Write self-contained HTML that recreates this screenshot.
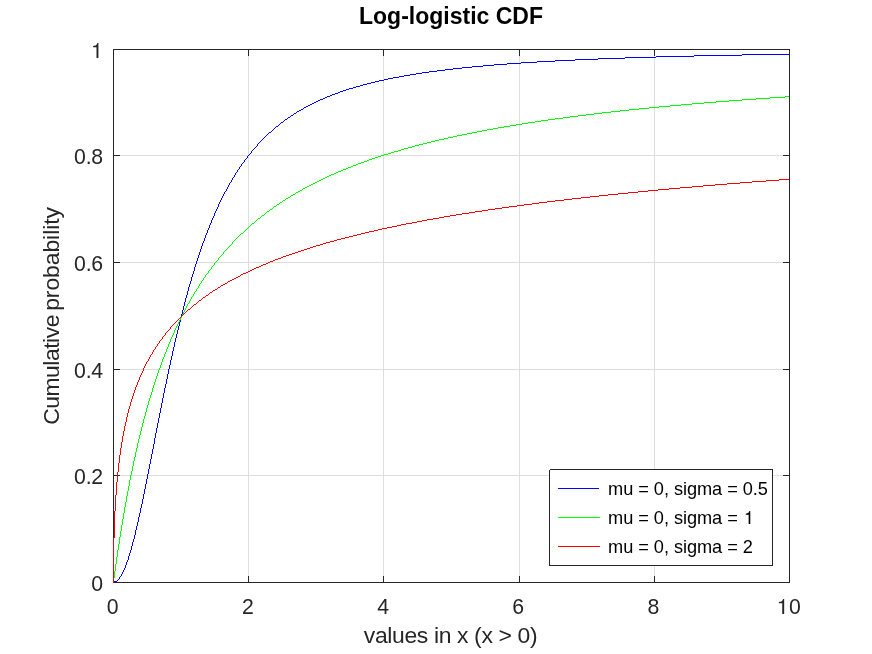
<!DOCTYPE html>
<html><head><meta charset="utf-8"><title>Log-logistic CDF</title>
<style>html,body{margin:0;padding:0;background:#fff;}body{width:872px;height:654px;overflow:hidden;}svg{display:block;will-change:transform;}text{font-family:"Liberation Sans",sans-serif;}</style>
</head><body>
<svg width="872" height="654" viewBox="0 0 872 654">
<rect x="0" y="0" width="872" height="654" fill="#ffffff"/>
<g shape-rendering="crispEdges" fill="#dedede">
<rect x="248" y="49" width="1" height="533"/>
<rect x="383" y="49" width="1" height="533"/>
<rect x="519" y="49" width="1" height="533"/>
<rect x="654" y="49" width="1" height="533"/>
<rect x="113" y="475" width="676" height="1"/>
<rect x="113" y="369" width="676" height="1"/>
<rect x="113" y="262" width="676" height="1"/>
<rect x="113" y="155" width="676" height="1"/>
</g>
<g shape-rendering="crispEdges" fill="#262626">
<rect x="113" y="49" width="677" height="1"/>
<rect x="113" y="582" width="677" height="1"/>
<rect x="113" y="49" width="1" height="534"/>
<rect x="789" y="49" width="1" height="534"/>
<rect x="248" y="576" width="1" height="7"/>
<rect x="248" y="49" width="1" height="7"/>
<rect x="383" y="576" width="1" height="7"/>
<rect x="383" y="49" width="1" height="7"/>
<rect x="519" y="576" width="1" height="7"/>
<rect x="519" y="49" width="1" height="7"/>
<rect x="654" y="576" width="1" height="7"/>
<rect x="654" y="49" width="1" height="7"/>
<rect x="113" y="475" width="7" height="1"/>
<rect x="783" y="475" width="7" height="1"/>
<rect x="113" y="369" width="7" height="1"/>
<rect x="783" y="369" width="7" height="1"/>
<rect x="113" y="262" width="7" height="1"/>
<rect x="783" y="262" width="7" height="1"/>
<rect x="113" y="155" width="7" height="1"/>
<rect x="783" y="155" width="7" height="1"/>
</g>
<g shape-rendering="crispEdges" fill="#0000ff">
<rect x="113" y="582" width="1" height="1"/><rect x="114" y="581" width="3" height="1"/><rect x="117" y="580" width="1" height="1"/><rect x="118" y="579" width="1" height="1"/><rect x="119" y="577" width="1" height="2"/><rect x="120" y="576" width="1" height="1"/><rect x="121" y="574" width="1" height="2"/><rect x="122" y="572" width="1" height="2"/><rect x="123" y="570" width="1" height="2"/><rect x="124" y="568" width="1" height="2"/><rect x="125" y="565" width="1" height="3"/><rect x="126" y="562" width="1" height="3"/><rect x="127" y="560" width="1" height="2"/><rect x="128" y="556" width="1" height="4"/><rect x="129" y="553" width="1" height="3"/><rect x="130" y="550" width="1" height="3"/><rect x="131" y="546" width="1" height="4"/><rect x="132" y="542" width="1" height="4"/><rect x="133" y="539" width="1" height="3"/><rect x="134" y="535" width="1" height="4"/><rect x="135" y="530" width="1" height="5"/><rect x="136" y="526" width="1" height="4"/><rect x="137" y="522" width="1" height="4"/><rect x="138" y="517" width="1" height="5"/><rect x="139" y="513" width="1" height="4"/><rect x="140" y="508" width="1" height="5"/><rect x="141" y="504" width="1" height="4"/><rect x="142" y="499" width="1" height="5"/><rect x="143" y="494" width="1" height="5"/><rect x="144" y="489" width="1" height="5"/><rect x="145" y="484" width="1" height="5"/><rect x="146" y="479" width="1" height="5"/><rect x="147" y="474" width="1" height="5"/><rect x="148" y="469" width="1" height="5"/><rect x="149" y="464" width="1" height="5"/><rect x="150" y="459" width="1" height="5"/><rect x="151" y="454" width="1" height="5"/><rect x="152" y="449" width="1" height="5"/><rect x="153" y="444" width="1" height="5"/><rect x="154" y="438" width="1" height="6"/><rect x="155" y="433" width="1" height="5"/><rect x="156" y="428" width="1" height="5"/><rect x="157" y="423" width="1" height="5"/><rect x="158" y="418" width="1" height="5"/><rect x="159" y="413" width="1" height="5"/><rect x="160" y="408" width="1" height="5"/><rect x="161" y="403" width="1" height="5"/><rect x="162" y="398" width="1" height="5"/><rect x="163" y="393" width="1" height="5"/><rect x="164" y="388" width="1" height="5"/><rect x="165" y="384" width="1" height="4"/><rect x="166" y="379" width="1" height="5"/><rect x="167" y="374" width="1" height="5"/><rect x="168" y="369" width="1" height="5"/><rect x="169" y="365" width="1" height="4"/><rect x="170" y="360" width="1" height="5"/><rect x="171" y="356" width="1" height="4"/><rect x="172" y="351" width="1" height="5"/><rect x="173" y="347" width="1" height="4"/><rect x="174" y="342" width="1" height="5"/><rect x="175" y="338" width="1" height="4"/><rect x="176" y="334" width="1" height="4"/><rect x="177" y="330" width="1" height="4"/><rect x="178" y="326" width="1" height="4"/><rect x="179" y="322" width="1" height="4"/><rect x="180" y="318" width="1" height="4"/><rect x="181" y="314" width="1" height="4"/><rect x="182" y="310" width="1" height="4"/><rect x="183" y="306" width="1" height="4"/><rect x="184" y="302" width="1" height="4"/><rect x="185" y="298" width="1" height="4"/><rect x="186" y="295" width="1" height="3"/><rect x="187" y="291" width="1" height="4"/><rect x="188" y="287" width="1" height="4"/><rect x="189" y="284" width="1" height="3"/><rect x="190" y="281" width="1" height="3"/><rect x="191" y="277" width="1" height="4"/><rect x="192" y="274" width="1" height="3"/><rect x="193" y="271" width="1" height="3"/><rect x="194" y="267" width="1" height="4"/><rect x="195" y="264" width="1" height="3"/><rect x="196" y="261" width="1" height="3"/><rect x="197" y="258" width="1" height="3"/><rect x="198" y="255" width="1" height="3"/><rect x="199" y="252" width="1" height="3"/><rect x="200" y="249" width="1" height="3"/><rect x="201" y="246" width="1" height="3"/><rect x="202" y="243" width="1" height="3"/><rect x="203" y="241" width="1" height="2"/><rect x="204" y="238" width="1" height="3"/><rect x="205" y="235" width="1" height="3"/><rect x="206" y="233" width="1" height="2"/><rect x="207" y="230" width="1" height="3"/><rect x="208" y="228" width="1" height="2"/><rect x="209" y="225" width="1" height="3"/><rect x="210" y="223" width="1" height="2"/><rect x="211" y="220" width="1" height="3"/><rect x="212" y="218" width="1" height="2"/><rect x="213" y="216" width="1" height="2"/><rect x="214" y="213" width="1" height="3"/><rect x="215" y="211" width="1" height="2"/><rect x="216" y="209" width="1" height="2"/><rect x="217" y="207" width="1" height="2"/><rect x="218" y="204" width="1" height="3"/><rect x="219" y="202" width="1" height="2"/><rect x="220" y="200" width="1" height="2"/><rect x="221" y="198" width="1" height="2"/><rect x="222" y="196" width="1" height="2"/><rect x="223" y="194" width="1" height="2"/><rect x="224" y="192" width="1" height="2"/><rect x="225" y="191" width="1" height="1"/><rect x="226" y="189" width="1" height="2"/><rect x="227" y="187" width="1" height="2"/><rect x="228" y="185" width="1" height="2"/><rect x="229" y="183" width="1" height="2"/><rect x="230" y="182" width="1" height="1"/><rect x="231" y="180" width="1" height="2"/><rect x="232" y="178" width="1" height="2"/><rect x="233" y="177" width="1" height="1"/><rect x="234" y="175" width="1" height="2"/><rect x="235" y="173" width="1" height="2"/><rect x="236" y="172" width="1" height="1"/><rect x="237" y="170" width="1" height="2"/><rect x="238" y="169" width="1" height="1"/><rect x="239" y="167" width="1" height="2"/><rect x="240" y="166" width="1" height="1"/><rect x="241" y="164" width="1" height="2"/><rect x="242" y="163" width="1" height="1"/><rect x="243" y="162" width="1" height="1"/><rect x="244" y="160" width="1" height="2"/><rect x="245" y="159" width="1" height="1"/><rect x="246" y="158" width="1" height="1"/><rect x="247" y="156" width="1" height="2"/><rect x="248" y="155" width="1" height="1"/><rect x="249" y="154" width="1" height="1"/><rect x="250" y="153" width="1" height="1"/><rect x="251" y="151" width="1" height="2"/><rect x="252" y="150" width="1" height="1"/><rect x="253" y="149" width="1" height="1"/><rect x="254" y="148" width="1" height="1"/><rect x="255" y="147" width="1" height="1"/><rect x="256" y="146" width="1" height="1"/><rect x="257" y="144" width="1" height="2"/><rect x="258" y="143" width="1" height="1"/><rect x="259" y="142" width="1" height="1"/><rect x="260" y="141" width="1" height="1"/><rect x="261" y="140" width="1" height="1"/><rect x="262" y="139" width="1" height="1"/><rect x="263" y="138" width="1" height="1"/><rect x="264" y="137" width="1" height="1"/><rect x="265" y="136" width="1" height="1"/><rect x="266" y="135" width="1" height="1"/><rect x="267" y="134" width="1" height="1"/><rect x="268" y="133" width="1" height="1"/><rect x="269" y="132" width="2" height="1"/><rect x="271" y="131" width="1" height="1"/><rect x="272" y="130" width="1" height="1"/><rect x="273" y="129" width="1" height="1"/><rect x="274" y="128" width="1" height="1"/><rect x="275" y="127" width="1" height="1"/><rect x="276" y="126" width="2" height="1"/><rect x="278" y="125" width="1" height="1"/><rect x="279" y="124" width="1" height="1"/><rect x="280" y="123" width="1" height="1"/><rect x="281" y="122" width="2" height="1"/><rect x="283" y="121" width="1" height="1"/><rect x="284" y="120" width="1" height="1"/><rect x="285" y="119" width="2" height="1"/><rect x="287" y="118" width="1" height="1"/><rect x="288" y="117" width="2" height="1"/><rect x="290" y="116" width="1" height="1"/><rect x="291" y="115" width="2" height="1"/><rect x="293" y="114" width="1" height="1"/><rect x="294" y="113" width="2" height="1"/><rect x="296" y="112" width="1" height="1"/><rect x="297" y="111" width="2" height="1"/><rect x="299" y="110" width="2" height="1"/><rect x="301" y="109" width="2" height="1"/><rect x="303" y="108" width="1" height="1"/><rect x="304" y="107" width="2" height="1"/><rect x="306" y="106" width="2" height="1"/><rect x="308" y="105" width="2" height="1"/><rect x="310" y="104" width="2" height="1"/><rect x="312" y="103" width="2" height="1"/><rect x="314" y="102" width="2" height="1"/><rect x="316" y="101" width="2" height="1"/><rect x="318" y="100" width="2" height="1"/><rect x="320" y="99" width="3" height="1"/><rect x="323" y="98" width="2" height="1"/><rect x="325" y="97" width="2" height="1"/><rect x="327" y="96" width="3" height="1"/><rect x="330" y="95" width="2" height="1"/><rect x="332" y="94" width="3" height="1"/><rect x="335" y="93" width="3" height="1"/><rect x="338" y="92" width="2" height="1"/><rect x="340" y="91" width="3" height="1"/><rect x="343" y="90" width="3" height="1"/><rect x="346" y="89" width="3" height="1"/><rect x="349" y="88" width="4" height="1"/><rect x="353" y="87" width="3" height="1"/><rect x="356" y="86" width="4" height="1"/><rect x="360" y="85" width="3" height="1"/><rect x="363" y="84" width="4" height="1"/><rect x="367" y="83" width="4" height="1"/><rect x="371" y="82" width="4" height="1"/><rect x="375" y="81" width="4" height="1"/><rect x="379" y="80" width="5" height="1"/><rect x="384" y="79" width="4" height="1"/><rect x="388" y="78" width="5" height="1"/><rect x="393" y="77" width="6" height="1"/><rect x="399" y="76" width="5" height="1"/><rect x="404" y="75" width="6" height="1"/><rect x="410" y="74" width="6" height="1"/><rect x="416" y="73" width="6" height="1"/><rect x="422" y="72" width="7" height="1"/><rect x="429" y="71" width="8" height="1"/><rect x="437" y="70" width="8" height="1"/><rect x="445" y="69" width="8" height="1"/><rect x="453" y="68" width="9" height="1"/><rect x="462" y="67" width="10" height="1"/><rect x="472" y="66" width="11" height="1"/><rect x="483" y="65" width="11" height="1"/><rect x="494" y="64" width="13" height="1"/><rect x="507" y="63" width="14" height="1"/><rect x="521" y="62" width="16" height="1"/><rect x="537" y="61" width="18" height="1"/><rect x="555" y="60" width="20" height="1"/><rect x="575" y="59" width="23" height="1"/><rect x="598" y="58" width="27" height="1"/><rect x="625" y="57" width="31" height="1"/><rect x="656" y="56" width="38" height="1"/><rect x="694" y="55" width="48" height="1"/><rect x="742" y="54" width="47" height="1"/>
</g>
<g shape-rendering="crispEdges" fill="#00ff00">
<rect x="113" y="578" width="1" height="5"/><rect x="114" y="571" width="1" height="7"/><rect x="115" y="564" width="1" height="7"/><rect x="116" y="557" width="1" height="7"/><rect x="117" y="550" width="1" height="7"/><rect x="118" y="544" width="1" height="6"/><rect x="119" y="537" width="1" height="7"/><rect x="120" y="531" width="1" height="6"/><rect x="121" y="525" width="1" height="6"/><rect x="122" y="519" width="1" height="6"/><rect x="123" y="513" width="1" height="6"/><rect x="124" y="507" width="1" height="6"/><rect x="125" y="502" width="1" height="5"/><rect x="126" y="496" width="1" height="6"/><rect x="127" y="491" width="1" height="5"/><rect x="128" y="486" width="1" height="5"/><rect x="129" y="480" width="1" height="6"/><rect x="130" y="475" width="1" height="5"/><rect x="131" y="471" width="1" height="4"/><rect x="132" y="466" width="1" height="5"/><rect x="133" y="461" width="1" height="5"/><rect x="134" y="457" width="1" height="4"/><rect x="135" y="452" width="1" height="5"/><rect x="136" y="448" width="1" height="4"/><rect x="137" y="443" width="1" height="5"/><rect x="138" y="439" width="1" height="4"/><rect x="139" y="435" width="1" height="4"/><rect x="140" y="431" width="1" height="4"/><rect x="141" y="427" width="1" height="4"/><rect x="142" y="423" width="1" height="4"/><rect x="143" y="419" width="1" height="4"/><rect x="144" y="416" width="1" height="3"/><rect x="145" y="412" width="1" height="4"/><rect x="146" y="408" width="1" height="4"/><rect x="147" y="405" width="1" height="3"/><rect x="148" y="401" width="1" height="4"/><rect x="149" y="398" width="1" height="3"/><rect x="150" y="395" width="1" height="3"/><rect x="151" y="392" width="1" height="3"/><rect x="152" y="388" width="1" height="4"/><rect x="153" y="385" width="1" height="3"/><rect x="154" y="382" width="1" height="3"/><rect x="155" y="379" width="1" height="3"/><rect x="156" y="376" width="1" height="3"/><rect x="157" y="373" width="1" height="3"/><rect x="158" y="370" width="1" height="3"/><rect x="159" y="368" width="1" height="2"/><rect x="160" y="365" width="1" height="3"/><rect x="161" y="362" width="1" height="3"/><rect x="162" y="359" width="1" height="3"/><rect x="163" y="357" width="1" height="2"/><rect x="164" y="354" width="1" height="3"/><rect x="165" y="352" width="1" height="2"/><rect x="166" y="349" width="1" height="3"/><rect x="167" y="347" width="1" height="2"/><rect x="168" y="344" width="1" height="3"/><rect x="169" y="342" width="1" height="2"/><rect x="170" y="339" width="1" height="3"/><rect x="171" y="337" width="1" height="2"/><rect x="172" y="335" width="1" height="2"/><rect x="173" y="333" width="1" height="2"/><rect x="174" y="330" width="1" height="3"/><rect x="175" y="328" width="1" height="2"/><rect x="176" y="326" width="1" height="2"/><rect x="177" y="324" width="1" height="2"/><rect x="178" y="322" width="1" height="2"/><rect x="179" y="320" width="1" height="2"/><rect x="180" y="318" width="1" height="2"/><rect x="181" y="316" width="1" height="2"/><rect x="182" y="314" width="1" height="2"/><rect x="183" y="312" width="1" height="2"/><rect x="184" y="310" width="1" height="2"/><rect x="185" y="308" width="1" height="2"/><rect x="186" y="306" width="1" height="2"/><rect x="187" y="304" width="1" height="2"/><rect x="188" y="303" width="1" height="1"/><rect x="189" y="301" width="1" height="2"/><rect x="190" y="299" width="1" height="2"/><rect x="191" y="297" width="1" height="2"/><rect x="192" y="296" width="1" height="1"/><rect x="193" y="294" width="1" height="2"/><rect x="194" y="292" width="1" height="2"/><rect x="195" y="291" width="1" height="1"/><rect x="196" y="289" width="1" height="2"/><rect x="197" y="288" width="1" height="1"/><rect x="198" y="286" width="1" height="2"/><rect x="199" y="284" width="1" height="2"/><rect x="200" y="283" width="1" height="1"/><rect x="201" y="281" width="1" height="2"/><rect x="202" y="280" width="1" height="1"/><rect x="203" y="278" width="1" height="2"/><rect x="204" y="277" width="1" height="1"/><rect x="205" y="275" width="1" height="2"/><rect x="206" y="274" width="1" height="1"/><rect x="207" y="273" width="1" height="1"/><rect x="208" y="271" width="1" height="2"/><rect x="209" y="270" width="1" height="1"/><rect x="210" y="269" width="1" height="1"/><rect x="211" y="267" width="1" height="2"/><rect x="212" y="266" width="1" height="1"/><rect x="213" y="265" width="1" height="1"/><rect x="214" y="263" width="1" height="2"/><rect x="215" y="262" width="1" height="1"/><rect x="216" y="261" width="1" height="1"/><rect x="217" y="260" width="1" height="1"/><rect x="218" y="258" width="1" height="2"/><rect x="219" y="257" width="1" height="1"/><rect x="220" y="256" width="1" height="1"/><rect x="221" y="255" width="1" height="1"/><rect x="222" y="254" width="1" height="1"/><rect x="223" y="252" width="1" height="2"/><rect x="224" y="251" width="1" height="1"/><rect x="225" y="250" width="1" height="1"/><rect x="226" y="249" width="1" height="1"/><rect x="227" y="248" width="1" height="1"/><rect x="228" y="247" width="1" height="1"/><rect x="229" y="246" width="1" height="1"/><rect x="230" y="245" width="1" height="1"/><rect x="231" y="244" width="1" height="1"/><rect x="232" y="242" width="1" height="2"/><rect x="233" y="241" width="1" height="1"/><rect x="234" y="240" width="1" height="1"/><rect x="235" y="239" width="1" height="1"/><rect x="236" y="238" width="1" height="1"/><rect x="237" y="237" width="1" height="1"/><rect x="238" y="236" width="1" height="1"/><rect x="239" y="235" width="1" height="1"/><rect x="240" y="234" width="1" height="1"/><rect x="241" y="233" width="2" height="1"/><rect x="243" y="232" width="1" height="1"/><rect x="244" y="231" width="1" height="1"/><rect x="245" y="230" width="1" height="1"/><rect x="246" y="229" width="1" height="1"/><rect x="247" y="228" width="1" height="1"/><rect x="248" y="227" width="1" height="1"/><rect x="249" y="226" width="1" height="1"/><rect x="250" y="225" width="1" height="1"/><rect x="251" y="224" width="1" height="1"/><rect x="252" y="223" width="2" height="1"/><rect x="254" y="222" width="1" height="1"/><rect x="255" y="221" width="1" height="1"/><rect x="256" y="220" width="1" height="1"/><rect x="257" y="219" width="1" height="1"/><rect x="258" y="218" width="2" height="1"/><rect x="260" y="217" width="1" height="1"/><rect x="261" y="216" width="1" height="1"/><rect x="262" y="215" width="2" height="1"/><rect x="264" y="214" width="1" height="1"/><rect x="265" y="213" width="1" height="1"/><rect x="266" y="212" width="1" height="1"/><rect x="267" y="211" width="2" height="1"/><rect x="269" y="210" width="1" height="1"/><rect x="270" y="209" width="2" height="1"/><rect x="272" y="208" width="1" height="1"/><rect x="273" y="207" width="1" height="1"/><rect x="274" y="206" width="2" height="1"/><rect x="276" y="205" width="1" height="1"/><rect x="277" y="204" width="2" height="1"/><rect x="279" y="203" width="1" height="1"/><rect x="280" y="202" width="2" height="1"/><rect x="282" y="201" width="1" height="1"/><rect x="283" y="200" width="2" height="1"/><rect x="285" y="199" width="1" height="1"/><rect x="286" y="198" width="2" height="1"/><rect x="288" y="197" width="2" height="1"/><rect x="290" y="196" width="1" height="1"/><rect x="291" y="195" width="2" height="1"/><rect x="293" y="194" width="2" height="1"/><rect x="295" y="193" width="1" height="1"/><rect x="296" y="192" width="2" height="1"/><rect x="298" y="191" width="2" height="1"/><rect x="300" y="190" width="2" height="1"/><rect x="302" y="189" width="1" height="1"/><rect x="303" y="188" width="2" height="1"/><rect x="305" y="187" width="2" height="1"/><rect x="307" y="186" width="2" height="1"/><rect x="309" y="185" width="2" height="1"/><rect x="311" y="184" width="2" height="1"/><rect x="313" y="183" width="2" height="1"/><rect x="315" y="182" width="2" height="1"/><rect x="317" y="181" width="2" height="1"/><rect x="319" y="180" width="2" height="1"/><rect x="321" y="179" width="2" height="1"/><rect x="323" y="178" width="2" height="1"/><rect x="325" y="177" width="2" height="1"/><rect x="327" y="176" width="2" height="1"/><rect x="329" y="175" width="2" height="1"/><rect x="331" y="174" width="3" height="1"/><rect x="334" y="173" width="2" height="1"/><rect x="336" y="172" width="2" height="1"/><rect x="338" y="171" width="3" height="1"/><rect x="341" y="170" width="2" height="1"/><rect x="343" y="169" width="3" height="1"/><rect x="346" y="168" width="2" height="1"/><rect x="348" y="167" width="3" height="1"/><rect x="351" y="166" width="2" height="1"/><rect x="353" y="165" width="3" height="1"/><rect x="356" y="164" width="2" height="1"/><rect x="358" y="163" width="3" height="1"/><rect x="361" y="162" width="3" height="1"/><rect x="364" y="161" width="3" height="1"/><rect x="367" y="160" width="2" height="1"/><rect x="369" y="159" width="3" height="1"/><rect x="372" y="158" width="3" height="1"/><rect x="375" y="157" width="3" height="1"/><rect x="378" y="156" width="3" height="1"/><rect x="381" y="155" width="3" height="1"/><rect x="384" y="154" width="4" height="1"/><rect x="388" y="153" width="3" height="1"/><rect x="391" y="152" width="3" height="1"/><rect x="394" y="151" width="4" height="1"/><rect x="398" y="150" width="3" height="1"/><rect x="401" y="149" width="3" height="1"/><rect x="404" y="148" width="4" height="1"/><rect x="408" y="147" width="4" height="1"/><rect x="412" y="146" width="3" height="1"/><rect x="415" y="145" width="4" height="1"/><rect x="419" y="144" width="4" height="1"/><rect x="423" y="143" width="4" height="1"/><rect x="427" y="142" width="4" height="1"/><rect x="431" y="141" width="4" height="1"/><rect x="435" y="140" width="4" height="1"/><rect x="439" y="139" width="5" height="1"/><rect x="444" y="138" width="4" height="1"/><rect x="448" y="137" width="5" height="1"/><rect x="453" y="136" width="4" height="1"/><rect x="457" y="135" width="5" height="1"/><rect x="462" y="134" width="5" height="1"/><rect x="467" y="133" width="5" height="1"/><rect x="472" y="132" width="5" height="1"/><rect x="477" y="131" width="5" height="1"/><rect x="482" y="130" width="5" height="1"/><rect x="487" y="129" width="6" height="1"/><rect x="493" y="128" width="5" height="1"/><rect x="498" y="127" width="6" height="1"/><rect x="504" y="126" width="6" height="1"/><rect x="510" y="125" width="6" height="1"/><rect x="516" y="124" width="6" height="1"/><rect x="522" y="123" width="6" height="1"/><rect x="528" y="122" width="7" height="1"/><rect x="535" y="121" width="6" height="1"/><rect x="541" y="120" width="7" height="1"/><rect x="548" y="119" width="7" height="1"/><rect x="555" y="118" width="8" height="1"/><rect x="563" y="117" width="7" height="1"/><rect x="570" y="116" width="8" height="1"/><rect x="578" y="115" width="8" height="1"/><rect x="586" y="114" width="8" height="1"/><rect x="594" y="113" width="8" height="1"/><rect x="602" y="112" width="9" height="1"/><rect x="611" y="111" width="9" height="1"/><rect x="620" y="110" width="9" height="1"/><rect x="629" y="109" width="10" height="1"/><rect x="639" y="108" width="10" height="1"/><rect x="649" y="107" width="10" height="1"/><rect x="659" y="106" width="11" height="1"/><rect x="670" y="105" width="11" height="1"/><rect x="681" y="104" width="11" height="1"/><rect x="692" y="103" width="12" height="1"/><rect x="704" y="102" width="12" height="1"/><rect x="716" y="101" width="13" height="1"/><rect x="729" y="100" width="13" height="1"/><rect x="742" y="99" width="14" height="1"/><rect x="756" y="98" width="14" height="1"/><rect x="770" y="97" width="15" height="1"/><rect x="785" y="96" width="4" height="1"/>
</g>
<g shape-rendering="crispEdges" fill="#ff0000">
<rect x="113" y="538" width="1" height="45"/><rect x="114" y="511" width="1" height="27"/><rect x="115" y="495" width="1" height="16"/><rect x="116" y="482" width="1" height="13"/><rect x="117" y="472" width="1" height="10"/><rect x="118" y="463" width="1" height="9"/><rect x="119" y="455" width="1" height="8"/><rect x="120" y="448" width="1" height="7"/><rect x="121" y="442" width="1" height="6"/><rect x="122" y="436" width="1" height="6"/><rect x="123" y="431" width="1" height="5"/><rect x="124" y="426" width="1" height="5"/><rect x="125" y="422" width="1" height="4"/><rect x="126" y="417" width="1" height="5"/><rect x="127" y="413" width="1" height="4"/><rect x="128" y="409" width="1" height="4"/><rect x="129" y="406" width="1" height="3"/><rect x="130" y="402" width="1" height="4"/><rect x="131" y="399" width="1" height="3"/><rect x="132" y="396" width="1" height="3"/><rect x="133" y="393" width="1" height="3"/><rect x="134" y="390" width="1" height="3"/><rect x="135" y="387" width="1" height="3"/><rect x="136" y="385" width="1" height="2"/><rect x="137" y="382" width="1" height="3"/><rect x="138" y="380" width="1" height="2"/><rect x="139" y="377" width="1" height="3"/><rect x="140" y="375" width="1" height="2"/><rect x="141" y="373" width="1" height="2"/><rect x="142" y="371" width="1" height="2"/><rect x="143" y="368" width="1" height="3"/><rect x="144" y="366" width="1" height="2"/><rect x="145" y="364" width="1" height="2"/><rect x="146" y="362" width="1" height="2"/><rect x="147" y="361" width="1" height="1"/><rect x="148" y="359" width="1" height="2"/><rect x="149" y="357" width="1" height="2"/><rect x="150" y="355" width="1" height="2"/><rect x="151" y="354" width="1" height="1"/><rect x="152" y="352" width="1" height="2"/><rect x="153" y="350" width="1" height="2"/><rect x="154" y="349" width="1" height="1"/><rect x="155" y="347" width="1" height="2"/><rect x="156" y="346" width="1" height="1"/><rect x="157" y="344" width="1" height="2"/><rect x="158" y="343" width="1" height="1"/><rect x="159" y="341" width="1" height="2"/><rect x="160" y="340" width="1" height="1"/><rect x="161" y="339" width="1" height="1"/><rect x="162" y="337" width="1" height="2"/><rect x="163" y="336" width="1" height="1"/><rect x="164" y="335" width="1" height="1"/><rect x="165" y="333" width="1" height="2"/><rect x="166" y="332" width="1" height="1"/><rect x="167" y="331" width="1" height="1"/><rect x="168" y="330" width="1" height="1"/><rect x="169" y="329" width="1" height="1"/><rect x="170" y="327" width="1" height="2"/><rect x="171" y="326" width="1" height="1"/><rect x="172" y="325" width="1" height="1"/><rect x="173" y="324" width="1" height="1"/><rect x="174" y="323" width="1" height="1"/><rect x="175" y="322" width="1" height="1"/><rect x="176" y="321" width="1" height="1"/><rect x="177" y="320" width="1" height="1"/><rect x="178" y="319" width="1" height="1"/><rect x="179" y="318" width="1" height="1"/><rect x="180" y="317" width="1" height="1"/><rect x="181" y="316" width="1" height="1"/><rect x="182" y="315" width="1" height="1"/><rect x="183" y="314" width="1" height="1"/><rect x="184" y="313" width="1" height="1"/><rect x="185" y="312" width="1" height="1"/><rect x="186" y="311" width="1" height="1"/><rect x="187" y="310" width="1" height="1"/><rect x="188" y="309" width="2" height="1"/><rect x="190" y="308" width="1" height="1"/><rect x="191" y="307" width="1" height="1"/><rect x="192" y="306" width="1" height="1"/><rect x="193" y="305" width="1" height="1"/><rect x="194" y="304" width="2" height="1"/><rect x="196" y="303" width="1" height="1"/><rect x="197" y="302" width="1" height="1"/><rect x="198" y="301" width="1" height="1"/><rect x="199" y="300" width="2" height="1"/><rect x="201" y="299" width="1" height="1"/><rect x="202" y="298" width="1" height="1"/><rect x="203" y="297" width="2" height="1"/><rect x="205" y="296" width="1" height="1"/><rect x="206" y="295" width="2" height="1"/><rect x="208" y="294" width="1" height="1"/><rect x="209" y="293" width="1" height="1"/><rect x="210" y="292" width="2" height="1"/><rect x="212" y="291" width="1" height="1"/><rect x="213" y="290" width="2" height="1"/><rect x="215" y="289" width="2" height="1"/><rect x="217" y="288" width="1" height="1"/><rect x="218" y="287" width="2" height="1"/><rect x="220" y="286" width="1" height="1"/><rect x="221" y="285" width="2" height="1"/><rect x="223" y="284" width="2" height="1"/><rect x="225" y="283" width="2" height="1"/><rect x="227" y="282" width="1" height="1"/><rect x="228" y="281" width="2" height="1"/><rect x="230" y="280" width="2" height="1"/><rect x="232" y="279" width="2" height="1"/><rect x="234" y="278" width="2" height="1"/><rect x="236" y="277" width="2" height="1"/><rect x="238" y="276" width="2" height="1"/><rect x="240" y="275" width="1" height="1"/><rect x="241" y="274" width="2" height="1"/><rect x="243" y="273" width="3" height="1"/><rect x="246" y="272" width="2" height="1"/><rect x="248" y="271" width="2" height="1"/><rect x="250" y="270" width="2" height="1"/><rect x="252" y="269" width="2" height="1"/><rect x="254" y="268" width="2" height="1"/><rect x="256" y="267" width="3" height="1"/><rect x="259" y="266" width="2" height="1"/><rect x="261" y="265" width="2" height="1"/><rect x="263" y="264" width="3" height="1"/><rect x="266" y="263" width="2" height="1"/><rect x="268" y="262" width="2" height="1"/><rect x="270" y="261" width="3" height="1"/><rect x="273" y="260" width="2" height="1"/><rect x="275" y="259" width="3" height="1"/><rect x="278" y="258" width="3" height="1"/><rect x="281" y="257" width="2" height="1"/><rect x="283" y="256" width="3" height="1"/><rect x="286" y="255" width="3" height="1"/><rect x="289" y="254" width="3" height="1"/><rect x="292" y="253" width="3" height="1"/><rect x="295" y="252" width="3" height="1"/><rect x="298" y="251" width="3" height="1"/><rect x="301" y="250" width="3" height="1"/><rect x="304" y="249" width="3" height="1"/><rect x="307" y="248" width="3" height="1"/><rect x="310" y="247" width="3" height="1"/><rect x="313" y="246" width="3" height="1"/><rect x="316" y="245" width="4" height="1"/><rect x="320" y="244" width="3" height="1"/><rect x="323" y="243" width="3" height="1"/><rect x="326" y="242" width="4" height="1"/><rect x="330" y="241" width="4" height="1"/><rect x="334" y="240" width="3" height="1"/><rect x="337" y="239" width="4" height="1"/><rect x="341" y="238" width="4" height="1"/><rect x="345" y="237" width="4" height="1"/><rect x="349" y="236" width="4" height="1"/><rect x="353" y="235" width="4" height="1"/><rect x="357" y="234" width="4" height="1"/><rect x="361" y="233" width="4" height="1"/><rect x="365" y="232" width="4" height="1"/><rect x="369" y="231" width="5" height="1"/><rect x="374" y="230" width="4" height="1"/><rect x="378" y="229" width="4" height="1"/><rect x="382" y="228" width="5" height="1"/><rect x="387" y="227" width="5" height="1"/><rect x="392" y="226" width="5" height="1"/><rect x="397" y="225" width="4" height="1"/><rect x="401" y="224" width="5" height="1"/><rect x="406" y="223" width="6" height="1"/><rect x="412" y="222" width="5" height="1"/><rect x="417" y="221" width="5" height="1"/><rect x="422" y="220" width="5" height="1"/><rect x="427" y="219" width="6" height="1"/><rect x="433" y="218" width="6" height="1"/><rect x="439" y="217" width="5" height="1"/><rect x="444" y="216" width="6" height="1"/><rect x="450" y="215" width="6" height="1"/><rect x="456" y="214" width="6" height="1"/><rect x="462" y="213" width="7" height="1"/><rect x="469" y="212" width="6" height="1"/><rect x="475" y="211" width="7" height="1"/><rect x="482" y="210" width="6" height="1"/><rect x="488" y="209" width="7" height="1"/><rect x="495" y="208" width="7" height="1"/><rect x="502" y="207" width="7" height="1"/><rect x="509" y="206" width="8" height="1"/><rect x="517" y="205" width="7" height="1"/><rect x="524" y="204" width="8" height="1"/><rect x="532" y="203" width="7" height="1"/><rect x="539" y="202" width="8" height="1"/><rect x="547" y="201" width="8" height="1"/><rect x="555" y="200" width="9" height="1"/><rect x="564" y="199" width="8" height="1"/><rect x="572" y="198" width="9" height="1"/><rect x="581" y="197" width="9" height="1"/><rect x="590" y="196" width="9" height="1"/><rect x="599" y="195" width="9" height="1"/><rect x="608" y="194" width="10" height="1"/><rect x="618" y="193" width="10" height="1"/><rect x="628" y="192" width="10" height="1"/><rect x="638" y="191" width="10" height="1"/><rect x="648" y="190" width="10" height="1"/><rect x="658" y="189" width="11" height="1"/><rect x="669" y="188" width="11" height="1"/><rect x="680" y="187" width="12" height="1"/><rect x="692" y="186" width="11" height="1"/><rect x="703" y="185" width="12" height="1"/><rect x="715" y="184" width="12" height="1"/><rect x="727" y="183" width="13" height="1"/><rect x="740" y="182" width="12" height="1"/><rect x="752" y="181" width="14" height="1"/><rect x="766" y="180" width="13" height="1"/><rect x="779" y="179" width="10" height="1"/>
</g>
<g fill="#262626" font-size="21.25px">
<text x="112.76" y="614" text-anchor="middle">0</text>
<text x="247.92" y="614" text-anchor="middle">2</text>
<text x="383.08" y="614" text-anchor="middle">4</text>
<text x="518.24" y="614" text-anchor="middle">6</text>
<text x="653.40" y="614" text-anchor="middle">8</text>
<path d="M782.25,614.00 L782.25,603.27 L778.92,603.27 L778.92,601.93 C781.83,601.55 782.42,601.10 783.08,598.93 L784.17,598.93 L784.17,614.00 Z" fill="#262626"/>
<text x="789.0" y="614">0</text>
<text x="102.9" y="591" text-anchor="end" letter-spacing="-0.25">0</text>
<text x="102.9" y="484" text-anchor="end" letter-spacing="-0.25">0.2</text>
<text x="102.9" y="378" text-anchor="end" letter-spacing="-0.25">0.4</text>
<text x="102.9" y="271" text-anchor="end" letter-spacing="-0.25">0.6</text>
<text x="102.9" y="164" text-anchor="end" letter-spacing="-0.25">0.8</text>
<path d="M96.50,58.00 L96.50,47.27 L93.17,47.27 L93.17,45.93 C96.08,45.55 96.67,45.10 97.33,42.93 L98.42,42.93 L98.42,58.00 Z" fill="#262626"/>
</g>
<text x="451.0" y="24" text-anchor="middle" font-size="23px" font-weight="bold" fill="#000000">Log-logistic CDF</text>
<text x="450.5" y="642.5" text-anchor="middle" font-size="22.9px" letter-spacing="-0.35" fill="#262626">values in x (x &gt; 0)</text>
<g font-size="22.9px" fill="#262626"><text transform="translate(58.6,424.8) rotate(-90)" letter-spacing="-0.478">Cumulative</text><text transform="translate(58.6,310.8) rotate(-90)" letter-spacing="-0.06">probability</text></g>
<g shape-rendering="crispEdges">
<rect x="549" y="469" width="224" height="97" fill="#ffffff"/>
<g fill="#262626"><rect x="550" y="469" width="223" height="1"/><rect x="549" y="565" width="224" height="1"/><rect x="549" y="470" width="1" height="96"/><rect x="772" y="469" width="1" height="97"/></g>
<rect x="558" y="488" width="41" height="1" fill="#0000ff"/>
<rect x="558" y="517" width="42" height="1" fill="#00ff00"/>
<rect x="558" y="546" width="42" height="1" fill="#ff0000"/>
</g>
<g fill="#000000" font-size="18.2px" letter-spacing="-0.05">
<text x="608.1" y="495">mu = 0, sigma = 0.5</text>
<text x="608.1" y="524">mu = 0, sigma =</text>
<path d="M748.66,524.00 L748.66,514.81 L745.80,514.81 L745.80,513.66 C748.30,513.33 748.81,512.95 749.37,511.10 L750.30,511.10 L750.30,524.00 Z" fill="#000000"/>
<text x="608.1" y="553">mu = 0, sigma = 2</text>
</g>
</svg></body></html>
